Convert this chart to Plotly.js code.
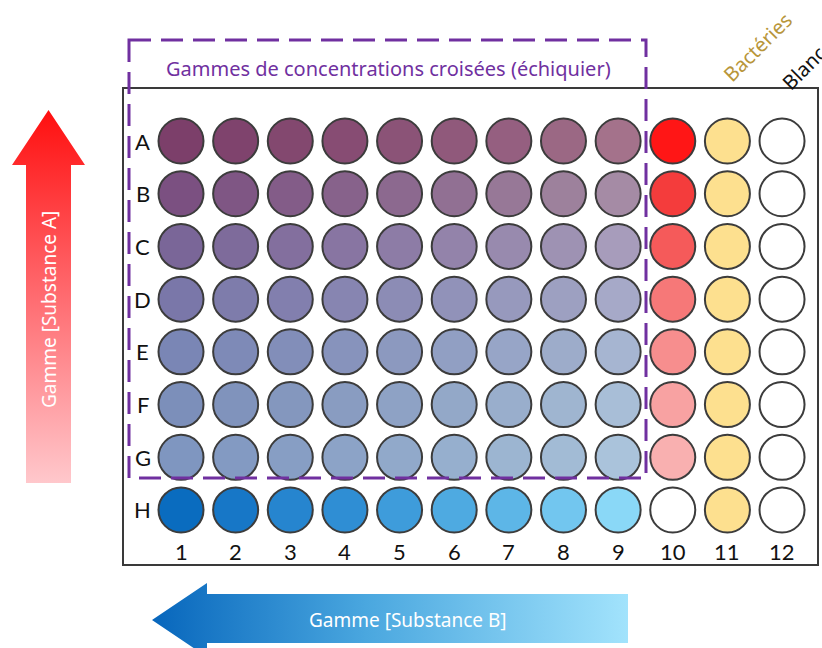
<!DOCTYPE html>
<html>
<head>
<meta charset="utf-8">
<script src="https://cdn.plot.ly/plotly-3.0.1.min.js"></script>
<style>html,body{margin:0;padding:0;background:#fff;}#chart{width:822px;height:648px;}</style>
</head>
<body>
<div id="chart"></div>
<script>
// ---- Data ----
var rowLabels = ['A','B','C','D','E','F','G','H'];
var colLabels = [1,2,3,4,5,6,7,8,9,10,11,12];
// Well colours (columns 1..12)
var rowA = ['#7c3f6a','#7f436d','#83486f','#874c73','#8b5377','#90597b','#955f80','#9b6884','#a4728b','#ff1616','#fde08f','#ffffff'];
var rowB = ['#7b5081','#7f5684','#835c88','#87628b','#8c698f','#917093','#977897','#9d819c','#a58ba5','#f43c3c','#fde08f','#ffffff'];
var rowC = ['#7a6698','#7e6b9b','#836f9e','#8875a2','#8d7ca6','#9383aa','#988aae','#9e92b3','#a79cbb','#f55a5a','#fde08f','#ffffff'];
var rowD = ['#7a77a9','#7e7cab','#827fae','#8785b1','#8c8cb5','#9192b9','#9799bd','#9da0c1','#a6a9c8','#f67878','#fde08f','#ffffff'];
var rowE = ['#7a86b5','#7e8ab7','#828eb9','#8793bc','#8c99bf','#919fc3','#97a5c7','#9dacca','#a6b5d1','#f78e8e','#fde08f','#ffffff'];
var rowF = ['#7c8fba','#8093bc','#8497be','#899cc1','#8ea2c5','#93a8c8','#99aecc','#9fb5d0','#a8bed7','#f8a2a2','#fde08f','#ffffff'];
var rowG = ['#7f96c0','#839ac2','#879ec4','#8ca3c7','#91a9ca','#96afce','#9cb5d1','#a2bbd5','#aac3db','#f9b0b0','#fde08f','#ffffff'];
var rowH = ['#0a6cbf','#1777c7','#2685cf','#2f8ed4','#3e9cdb','#4eaae1','#5db6e7','#72c6ef','#8ad8f7','#ffffff','#fde08f','#ffffff'];
var wellRows = [rowA,rowB,rowC,rowD,rowE,rowF,rowG,rowH];

var boxTitle = 'Gammes de concentrations croisées (échiquier)';
var labelBacteries = 'Bactéries';
var labelBlanc = 'Blanc';
var arrowAText = 'Gamme [Substance A]';
var arrowBText = 'Gamme [Substance B]';

// ---- Build well trace ----
var wx = [], wy = [], wc = [];
wellRows.forEach(function(r, i){
  r.forEach(function(c, j){ wx.push(colLabels[j]); wy.push(i); wc.push(c); });
});

var W = 822, H = 648;
function Y(py){ return H - py; } // pixel-top to decoration axis

var traces = [];
// red arrow (up)
traces.push({
  type:'scatter', mode:'lines', xaxis:'x2', yaxis:'y2', hoverinfo:'skip',
  x:[26,26,12,48.5,85,71,71,26], y:[Y(483),Y(165),Y(165),Y(110),Y(165),Y(165),Y(483),Y(483)],
  fill:'toself', line:{width:0,color:'rgba(0,0,0,0)'},
  fillgradient:{type:'vertical', colorscale:[[0,'#ffc8cc'],[0.5,'#ff6b70'],[1,'#ff0f0f']]}
});
// blue arrow (left)
traces.push({
  type:'scatter', mode:'lines', xaxis:'x2', yaxis:'y2', hoverinfo:'skip',
  x:[628,207,207,152,207,207,628,628], y:[Y(594),Y(594),Y(583),Y(620),Y(657),Y(643),Y(643),Y(594)],
  fill:'toself', line:{width:0,color:'rgba(0,0,0,0)'},
  fillgradient:{type:'horizontal', colorscale:[[0,'#0766bc'],[0.45,'#4aa7df'],[1,'#a2e3fc']]}
});
// wells
traces.push({
  type:'scatter', mode:'markers', x:wx, y:wy, hoverinfo:'skip',
  marker:{symbol:'circle', size:45, color:wc, line:{width:2, color:'#3c3c3c'}}
});

var annotations = [];
rowLabels.forEach(function(l,i){
  annotations.push({xref:'x', yref:'y', x:0.30, y:i, text:l, showarrow:false,
    font:{family:'Lato, Noto Sans', size:22, color:'#111'}});
});
colLabels.forEach(function(c){
  annotations.push({xref:'x', yref:'y', x:c, y:7.78, text:String(c), showarrow:false,
    font:{family:'Lato, Noto Sans', size:22, color:'#111'}});
});
annotations.push({xref:'x2', yref:'y2', x:388, y:Y(68), text:boxTitle, showarrow:false,
  font:{family:'Noto Sans', size:20, color:'#7030a0'}});
annotations.push({xref:'x2', yref:'y2', x:757, y:Y(47), text:labelBacteries, showarrow:false, textangle:-45,
  font:{family:'Noto Sans', size:20, color:'#b8963a'}});
annotations.push({xref:'x2', yref:'y2', x:803, y:Y(68), text:labelBlanc, showarrow:false, textangle:-45,
  font:{family:'Noto Sans', size:20, color:'#111'}});
annotations.push({xref:'x2', yref:'y2', x:49, y:Y(310), text:arrowAText, showarrow:false, textangle:-90,
  font:{family:'Noto Sans', size:19, color:'#ffffff'}});
annotations.push({xref:'x2', yref:'y2', x:408, y:Y(620), text:arrowBText, showarrow:false,
  font:{family:'Noto Sans', size:19, color:'#ffffff'}});

var shapes = [
  {type:'rect', xref:'x2', yref:'y2', x0:123, x1:818, y0:Y(88), y1:Y(565), layer:'below',
   line:{color:'#3a3a3a', width:2}, fillcolor:'rgba(0,0,0,0)'},
  {type:'rect', xref:'x2', yref:'y2', x0:129, x1:646, y0:Y(40), y1:Y(478), layer:'above',
   line:{color:'#7030a0', width:3, dash:'22px,10px'}, fillcolor:'rgba(0,0,0,0)'}
];

var layout = {
  width:W, height:H, margin:{l:0,r:0,t:0,b:0},
  paper_bgcolor:'#ffffff', plot_bgcolor:'#ffffff', showlegend:false,
  xaxis:{range:[1-181/54.64, 1+641/54.64], visible:false, fixedrange:true},
  yaxis:{range:[507/52.71, -141/52.71], visible:false, fixedrange:true},
  xaxis2:{overlaying:'x', range:[0,W], visible:false, fixedrange:true},
  yaxis2:{overlaying:'y', range:[0,H], visible:false, fixedrange:true},
  shapes:shapes, annotations:annotations
};

Plotly.newPlot('chart', traces, layout, {displayModeBar:false, staticPlot:true});
</script>
</body>
</html>
